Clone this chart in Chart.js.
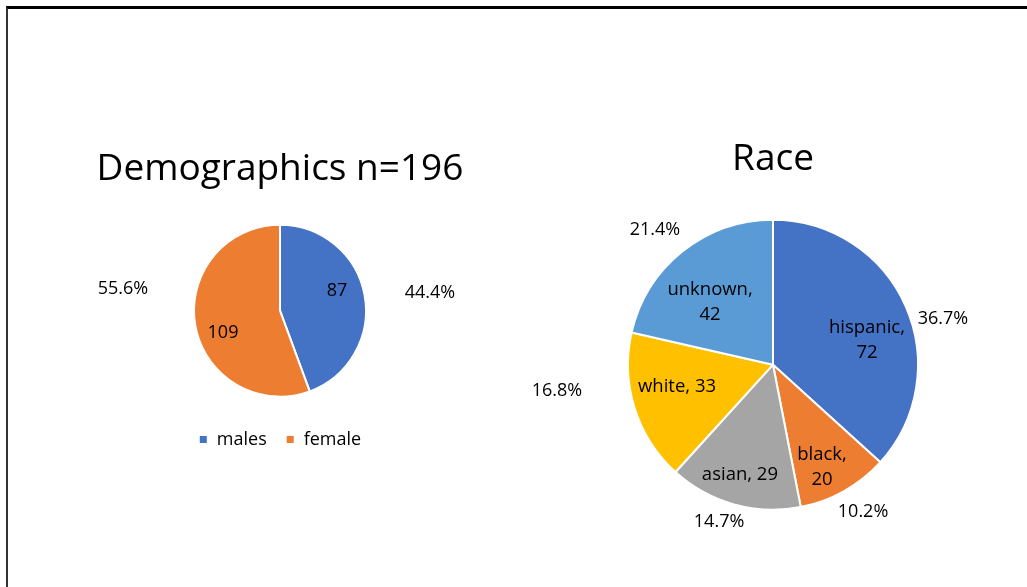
<!DOCTYPE html>
<html>
<head>
<meta charset="utf-8">
<script src="https://cdn.jsdelivr.net/npm/chart.js@4/dist/chart.umd.min.js"></script>
<style>
  html, body { margin: 0; padding: 0; background: #fff; }
  body { width: 1027px; height: 587px; position: relative; overflow: hidden; }
  .frame { position: absolute; left: 6px; top: 6px; right: -10px; bottom: -10px;
           border-top: 3px solid #000; border-left: 2px solid #333; }
  .box { position: absolute; }
  #genderBox { left: 40px; top: 120px; width: 480px; height: 350px; }
  #raceBox { left: 530px; top: 110px; width: 486px; height: 460px; }
</style>
</head>
<body>
<div class="frame"></div>
<div class="box" id="genderBox"><canvas id="genderChart"></canvas></div>
<div class="box" id="raceBox"><canvas id="raceChart"></canvas></div>
<script>
// gender split
var genderLabels = ['males', 'female'];
var genderCounts = [87, 109];
var genderPercents = ['44.4%', '55.6%'];

// race split
var raceLabels = ['hispanic', 'black', 'asian', 'white', 'unknown'];
var raceCounts = [72, 20, 29, 33, 42];
var racePercents = ['36.7%', '10.2%', '14.7%', '16.8%', '21.4%'];

var FONT = "'Open Sans', sans-serif";
var TEXT = '#000';

// Draws the count label inside each slice and the percentage outside it.
// Offsets are in units of the pie radius, measured from the pie centre.
function sliceLabels(layout) {
    return {
        id: 'sliceLabels',
        afterDatasetsDraw: function (chart) {
            var ctx = chart.ctx;
            var meta = chart.getDatasetMeta(0);
            ctx.save();
            ctx.fillStyle = TEXT;
            ctx.textAlign = 'center';
            ctx.textBaseline = 'middle';
            meta.data.forEach(function (arc, i) {
                var r = arc.outerRadius;
                var lines = layout.text(i);
                ctx.font = layout.innerSize + 'px ' + FONT;
                lines.forEach(function (t, k) {
                    var dy = (k - (lines.length - 1) / 2) * layout.lineHeight;
                    ctx.fillText(t, arc.x + layout.inner[i][0] * r, arc.y + layout.inner[i][1] * r + dy);
                });
                ctx.font = layout.outerSize + 'px ' + FONT;
                ctx.fillText(layout.pct[i], arc.x + layout.outer[i][0] * r, arc.y + layout.outer[i][1] * r);
            });
            ctx.restore();
        }
    };
}

function Pie_Chart(id, labels, counts, colors, radius, title, legend, padding, layout) {
    var ctx = document.getElementById(id).getContext('2d');
    return new Chart(ctx, {
        type: 'pie',
        data: {
            labels: labels,
            datasets: [{
                data: counts,
                backgroundColor: colors,
                borderColor: '#fff',
                borderWidth: 2,
                radius: radius
            }]
        },
        options: {
            responsive: true,
            maintainAspectRatio: false,
            animation: false,
            layout: { padding: padding },
            plugins: {
                title: {
                    display: true,
                    text: title.text,
                    color: TEXT,
                    font: { family: FONT, size: 37, weight: 'normal' },
                    padding: title.padding
                },
                legend: legend,
                tooltip: { enabled: false }
            }
        },
        plugins: [sliceLabels(layout)]
    });
}

Pie_Chart('genderChart', genderLabels, genderCounts, ['#4472C4', '#ED7D31'], 86,
    { text: 'Demographics n=196', padding: { top: 27.5, bottom: 18 } },
    {
        display: true,
        position: 'bottom',
        labels: {
            color: TEXT,
            boxWidth: 9,
            boxHeight: 9,
            padding: 19,
            font: { family: FONT, size: 18 }
        }
    },
    { top: 0, bottom: 11.6 },
    {
        text: function (i) { return [String(genderCounts[i])]; },
        pct: genderPercents,
        innerSize: 18, outerSize: 18, lineHeight: 25,
        inner: [[0.663, -0.233], [-0.663, 0.256]],
        outer: [[1.744, -0.209], [-1.826, -0.256]]
    });

Pie_Chart('raceChart', raceLabels, raceCounts, ['#4472C4', '#ED7D31', '#A5A5A5', '#FFC000', '#5B9BD5'], 145,
    { text: 'Race', padding: { top: 27, bottom: 0 } },
    { display: false },
    { top: 0, bottom: 22 },
    {
        text: function (i) {
            var split = [true, true, false, false, true][i];
            return split ? [raceLabels[i] + ',', String(raceCounts[i])]
                         : [raceLabels[i] + ', ' + raceCounts[i]];
        },
        pct: racePercents,
        innerSize: 18.5, outerSize: 18, lineHeight: 25,
        inner: [[0.648, -0.169], [0.338, 0.707], [-0.228, 0.759], [-0.662, 0.152], [-0.434, -0.431]],
        outer: [[1.172, -0.317], [0.621, 1.014], [-0.372, 1.083], [-1.490, 0.179], [-0.814, -0.931]]
    });
</script>
</body>
</html>
